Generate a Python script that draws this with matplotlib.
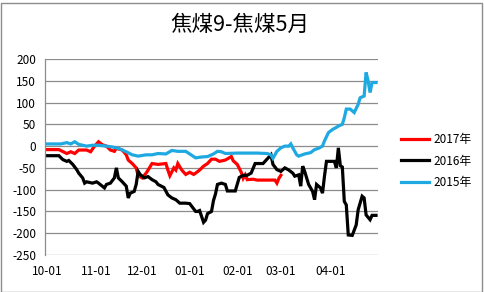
import matplotlib
matplotlib.use("Agg")
import matplotlib.pyplot as plt
from matplotlib.patches import Rectangle

plt.rcParams['font.family'] = ['Noto Sans CJK SC', 'DejaVu Sans']

title = "焦煤9-焦煤5月"
tick_pos = [0, 25, 48, 72, 96, 118, 143]
tick_labels = ["10-01", "11-01", "12-01", "01-01", "02-01", "03-01", "04-01"]
yticks = [200, 150, 100, 50, 0, -50, -100, -150, -200, -250]

days_2017 = [0, 6, 10, 12, 14, 16, 20, 22, 24, 26, 28, 30, 32, 34, 35, 38, 40, 41, 43, 45, 46, 48, 50, 51, 53, 56, 60, 61, 62, 64, 65, 66, 68, 70, 72, 74, 75, 77, 79, 81, 83, 85, 87, 90, 93, 94, 96, 98, 99, 100, 101, 104, 106, 115, 116, 117, 118]
vals_2017 = [-8, -8, -17, -13, -17, -9, -9, -13, 0, 10, 3, 0, -9, -12, -5, -9, -20, -32, -40, -50, -68, -73, -62, -55, -40, -42, -40, -55, -68, -50, -55, -40, -55, -65, -60, -65, -62, -55, -46, -40, -30, -30, -35, -32, -24, -34, -42, -60, -74, -66, -77, -76, -78, -78, -85, -74, -67]

days_2016 = [0, 6, 8, 10, 11, 13, 15, 16, 18, 19, 20, 23, 25, 26, 29, 30, 32, 34, 35, 36, 38, 40, 41, 42, 44, 45, 46, 47, 49, 51, 53, 55, 56, 59, 61, 63, 65, 67, 70, 72, 75, 76, 77, 79, 80, 81, 83, 84, 85, 86, 88, 90, 91, 95, 97, 99, 101, 103, 105, 109, 111, 113, 114, 116, 118, 120, 122, 124, 125, 127, 128, 129, 130, 132, 134, 135, 136, 138, 139, 140, 141, 145, 146, 147, 148, 149, 150, 151, 152, 154, 156, 157, 159, 160, 161, 163, 164, 166]
vals_2016 = [-22, -22, -31, -35, -33, -42, -54, -62, -73, -85, -82, -85, -82, -85, -96, -88, -85, -73, -50, -73, -82, -92, -119, -108, -104, -88, -58, -65, -73, -70, -77, -82, -88, -95, -112, -119, -123, -131, -131, -132, -150, -150, -148, -175, -170, -155, -150, -125, -110, -88, -85, -88, -103, -103, -72, -67, -67, -62, -40, -40, -30, -20, -42, -54, -58, -50, -55, -62, -69, -66, -92, -46, -58, -88, -104, -123, -88, -96, -108, -69, -35, -35, -50, -4, -45, -48, -127, -135, -204, -205, -181, -146, -115, -119, -158, -169, -159, -159]

days_2015 = [0, 4, 7, 10, 12, 14, 16, 20, 23, 26, 30, 33, 36, 40, 43, 46, 50, 53, 56, 60, 63, 66, 70, 72, 75, 78, 81, 84, 86, 88, 90, 96, 106, 111, 113, 114, 116, 118, 120, 122, 123, 124, 126, 127, 130, 133, 135, 137, 139, 140, 142, 144, 146, 147, 149, 150, 151, 153, 155, 157, 158, 160, 161, 162, 163, 164, 166]
vals_2015 = [5, 5, 5, 8, 5, 10, 4, 0, 2, 2, 0, -2, -5, -13, -20, -23, -20, -20, -17, -18, -10, -12, -12, -18, -27, -25, -24, -18, -12, -13, -17, -16, -16, -17, -20, -28, -12, -4, 0, 0, 5, -4, -20, -23, -18, -15, -8, -5, 0, 12, 31, 38, 43, 46, 50, 65, 85, 85, 77, 96, 111, 115, 169, 150, 123, 146, 146]

W, H = 485, 292
fig = plt.figure(figsize=(W / 100, H / 100), dpi=100)
ax = fig.add_axes([45 / W, 1 - 255 / H, 333 / W, 196 / H])

lw = 2.3
ax.plot(days_2017, vals_2017, color="#FF0000", lw=lw, label="2017年", solid_joinstyle="miter")
ax.plot(days_2016, vals_2016, color="#000000", lw=lw, label="2016年", solid_joinstyle="miter")
ax.plot(days_2015, vals_2015, color="#1FA9E1", lw=lw, label="2015年", solid_joinstyle="miter")

ax.set_xlim(-1, 167)
ax.set_ylim(-250, 200)
ax.set_yticks(yticks)
ax.set_yticklabels([str(v) for v in yticks])
ax.set_xticks(tick_pos)
ax.set_xticklabels(tick_labels)
ax.tick_params(axis='both', length=0, labelsize=8.5, colors='#000000')
ax.tick_params(axis='y', pad=6.5)
ax.tick_params(axis='x', pad=7)
ax.grid(axis='y', color='#8C8C8C', lw=0.9)
ax.set_axisbelow(True)
for s in ['top', 'right', 'bottom']:
    ax.spines[s].set_visible(False)
ax.spines['left'].set_color('#8C8C8C')
ax.spines['left'].set_linewidth(0.9)

fig.text(0.495, 1 - 25 / H, title, ha='center', va='center', fontsize=15.5)

fig.legend(loc='center left', bbox_to_anchor=(395 / W, 1 - 161 / H), frameon=False,
           fontsize=8.5, handlelength=2.4, handletextpad=0.4, labelspacing=0.7, borderpad=0)

fig.patches.append(Rectangle((0.5 / W, 0.5 / H), (W - 3) / W, (H - 3) / H,
                             transform=fig.transFigure, fill=False, edgecolor='#8C8C8C', lw=1))

fig.savefig("out.png", dpi=100)
